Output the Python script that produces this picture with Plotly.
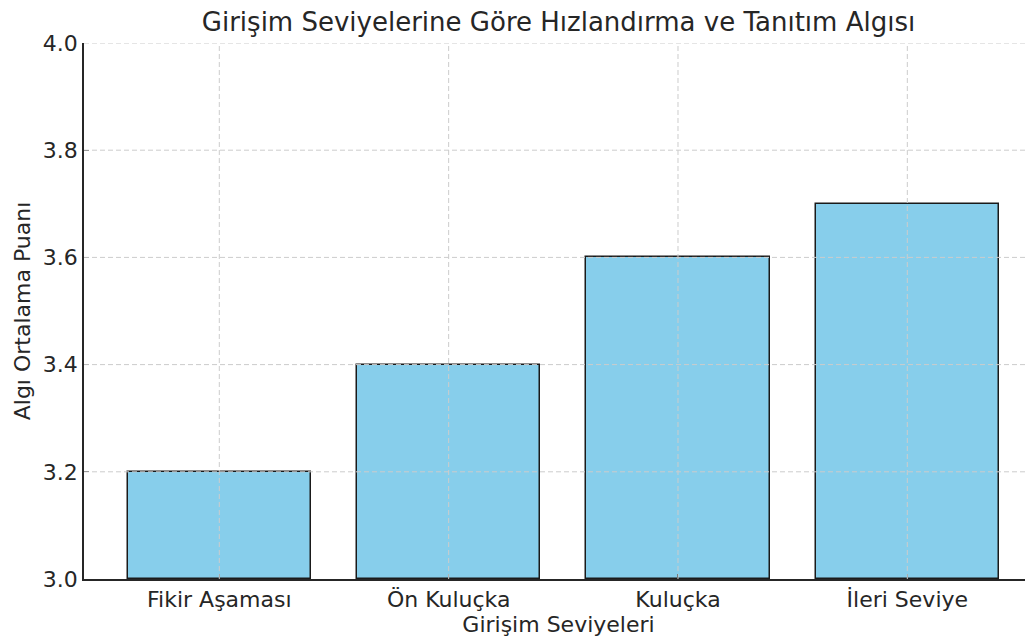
import plotly.graph_objects as go

categories = ["Fikir Aşaması", "Ön Kuluçka", "Kuluçka", "İleri Seviye"]
values = [3.2, 3.4, 3.6, 3.7]
y_ticks = [3.0, 3.2, 3.4, 3.6, 3.8, 4.0]
y_tick_labels = ["3.0", "3.2", "3.4", "3.6", "3.8", "4.0"]

title_text = "Girişim Seviyelerine Göre Hızlandırma ve Tanıtım Algısı"
x_title = "Girişim Seviyeleri"
y_title = "Algı Ortalama Puanı"

FONT = "DejaVu Sans"
TEXT = "#262626"
GRID = "#cccccc"
AX = "#262626"

idx = list(range(len(categories)))

fig = go.Figure()
fig.add_trace(go.Bar(
    x=idx, y=[v - 3.0 for v in values], base=3.0,
    width=0.8,
    marker=dict(color="#87CEEB", line=dict(color="#1a1a1a", width=1.5)),
    hoverinfo="skip",
))

shapes = []
for i in idx:
    shapes.append(dict(type="line", xref="x", yref="paper", x0=i, x1=i, y0=0, y1=1,
                       line=dict(color=GRID, width=1, dash="5px,3px"), layer="above"))
for t in y_ticks[1:]:
    shapes.append(dict(type="line", xref="paper", yref="y", x0=0, x1=1, y0=t, y1=t,
                       line=dict(color=GRID, width=1, dash="5px,3px"), layer="above"))

fig.update_layout(
    width=1025, height=631,
    margin=dict(l=76, r=0, t=35, b=60, autoexpand=False),
    paper_bgcolor="white", plot_bgcolor="white",
    font=dict(family=FONT, color=TEXT, size=22),
    title=dict(text=title_text, x=0.5, xref="paper", y=1 - 14 / 631, yanchor="middle",
               font=dict(size=26, color=TEXT)),
    showlegend=False,
    shapes=shapes,
    bargap=0,
)
fig.update_xaxes(
    range=[-0.59, 3.548], tickmode="array", tickvals=idx, ticktext=categories,
    showgrid=False, zeroline=False, showline=True, linecolor=AX, linewidth=1.5,
    ticks="inside", ticklen=5, tickcolor=AX, tickwidth=1.2, layer="above traces",
    tickfont=dict(size=22, color=TEXT), automargin=False,
    title=dict(text=x_title, font=dict(size=22, color=TEXT), standoff=0),
)
fig.update_yaxes(
    range=[3.0, 4.0], tickmode="array", tickvals=y_ticks, ticktext=y_tick_labels,
    showgrid=False, zeroline=False, showline=True, linecolor=AX, linewidth=1.5,
    ticks="inside", ticklen=5, tickcolor=AX, tickwidth=1.2, layer="above traces",
    tickfont=dict(size=22, color=TEXT), automargin=False,
    title=dict(text=y_title, font=dict(size=22, color=TEXT), standoff=6),
)

fig.write_html("out.html")
